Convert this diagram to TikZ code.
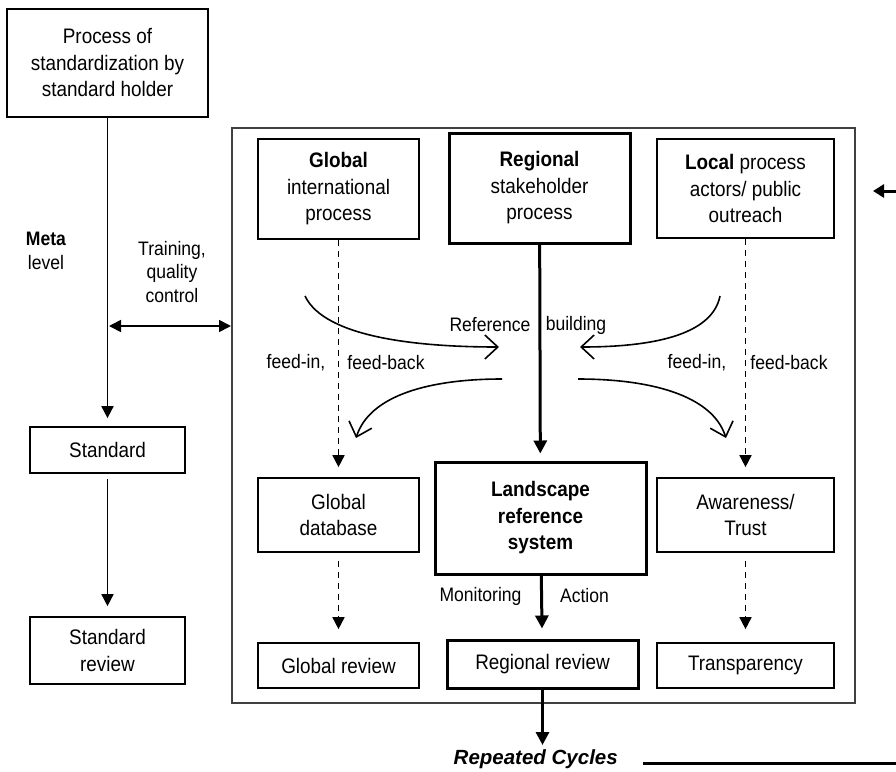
\documentclass[tikz,border=0pt]{standalone}
\usepackage{fontspec}
\setmainfont{Liberation Sans}[FakeStretch=0.9]
\newfontfamily\rcfont{Liberation Sans}
\usetikzlibrary{arrows.meta}
\newcommand\bxf{\fontsize{21}{26.5}\selectfont}
\newcommand\lbf{\fontsize{19.5}{23.5}\selectfont}
\begin{document}
\begin{tikzpicture}[x=1pt,y=-1pt,
  box/.style={draw, line width=1.7pt, inner sep=0pt, align=center, font=\bxf},
  tbox/.style={box, line width=3pt},
  lbl/.style={inner sep=0pt, align=center, font=\lbf},
  arr/.style={line width=1.7pt, -{Triangle[length=12pt,width=12pt]}},
  tarr/.style={line width=3pt, -{Triangle[length=13pt,width=13pt]}},
  darr/.style={arr, dash pattern=on 6pt off 5pt},
  barb/.style={line width=1.6pt, -{Straight Barb[length=13pt,width=24pt]}},
]
\useasboundingbox (0,0) rectangle (896,771);
% outer frame
\node[draw=black!75, line width=2pt, minimum width=623pt, minimum height=575pt, inner sep=0pt] (big) at (543.5,415.5) {};
% left column
\node[box, minimum width=201pt, minimum height=108pt] (top) at (107.5,63) {Process of\\standardization by\\standard holder};
\node[box, minimum width=155pt, minimum height=46pt] (std) at (107.5,450) {Standard};
\node[box, minimum width=155pt, minimum height=67pt] (stdrev) at (107.5,650.5) {Standard\\review};
\node[lbl] (meta) at (46,251) {\textbf{Meta}\\level};
\node[lbl] (train) at (172,272) {Training,\\quality\\control};
% top row
\node[box, minimum width=161pt, minimum height=100pt] (glob) at (338.5,189) {\textbf{Global}\\international\\process};
\node[tbox, minimum width=181pt, minimum height=110pt] (reg) at (539.5,188) {\textbf{Regional}\\stakeholder\\process};
\node[box, minimum width=177pt, minimum height=99pt] (loc) at (745.5,188.5) {\textbf{Local} process\\actors/ public\\outreach};
% middle row
\node[box, minimum width=161pt, minimum height=74pt] (gdb) at (338.5,515) {Global\\database};
\node[tbox, minimum width=211pt, minimum height=112pt] (land) at (540.5,518) {\textbf{Landscape}\\\textbf{reference}\\\textbf{system}};
\node[box, minimum width=177pt, minimum height=74pt] (aw) at (745.5,515) {Awareness/\\Trust};
% bottom row
\node[box, minimum width=161pt, minimum height=45pt] (grev) at (338.5,665.5) {Global review};
\node[tbox, minimum width=191pt, minimum height=48pt] (rrev) at (542.5,664) {Regional review};
\node[box, minimum width=177pt, minimum height=45pt] (trans) at (745.5,665.5) {Transparency};
% labels
\node[lbl] (refl) at (490,325) {Reference};
\node[lbl] (bldl) at (576,325) {building};
\node[lbl] (fil) at (296,363) {feed-in,};
\node[lbl] (fbl) at (386,363) {feed-back};
\node[lbl] (fir) at (697,363) {feed-in,};
\node[lbl] (fbr) at (789,363) {feed-back};
\node[lbl] (mon) at (480.5,596) {Monitoring};
\node[lbl] (act) at (584.5,596) {Action};
\node[inner sep=0pt, anchor=east, font=\rcfont\fontsize{20.5}{22}\selectfont\bfseries\itshape] (rc) at (618,759) {Repeated Cycles};
% coordinates
\coordinate (mt) at (109,326);
\coordinate (rdown) at (542.5,745);
\coordinate (rcend) at (896,763);
\coordinate (rcstart) at (643,763);
\coordinate (rin) at (896,191);
\coordinate (rtip) at (873,191);
\coordinate (c1s) at (305,296);
\coordinate (c1e) at (499,347);
\coordinate (c2s) at (502,379);
\coordinate (c2e) at (356,438);
\coordinate (c3s) at (720,296);
\coordinate (c3e) at (580,347);
\coordinate (c4s) at (578,379);
\coordinate (c4e) at (726,438);
% left column arrows
\draw[arr, shorten >=8pt] (top) -- (std);
\draw[arr, shorten <=5pt, shorten >=10pt] (std) -- (stdrev);
\draw[line width=1.7pt, {Triangle[length=12pt,width=12pt]}-{Triangle[length=12pt,width=12pt]}] (mt) -- (big.west |- mt);
% vertical arrows inside
\draw[darr, shorten >=10pt] (glob) -- (gdb);
\draw[darr, shorten >=10pt] (loc) -- (aw);
\draw[tarr, shorten >=7pt] (reg) -- (land);
\draw[darr, shorten <=8pt, shorten >=13pt] (gdb) -- (grev);
\draw[darr, shorten <=8pt, shorten >=13pt] (aw) -- (trans);
\draw[tarr, shorten >=10pt] (land) -- (rrev);
\draw[tarr] (rrev) -- (rdown);
% curved arrows
\draw[barb] (c1s) .. controls (325,338) and (420,347) .. (c1e);
\draw[barb] (c2s) .. controls (430,379) and (370,395) .. (c2e);
\draw[barb] (c3s) .. controls (712,336) and (650,347) .. (c3e);
\draw[barb] (c4s) .. controls (650,379) and (712,395) .. (c4e);
% repeated cycles
\draw[line width=3pt] (rcstart) -- (rcend);
\draw[line width=3pt, -{Triangle[length=11pt,width=13pt]}] (rin) -- (rtip);
\end{tikzpicture}
\end{document}
